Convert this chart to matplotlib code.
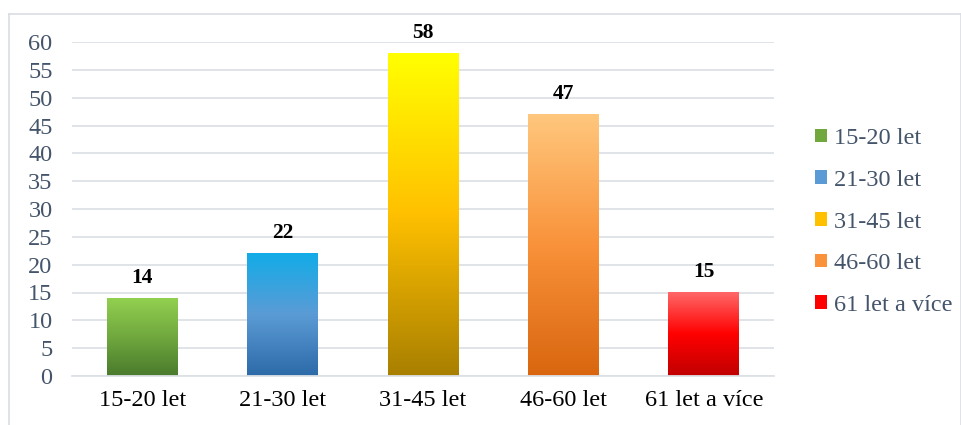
import matplotlib
matplotlib.use("Agg")
import matplotlib.pyplot as plt
import numpy as np
from matplotlib.colors import LinearSegmentedColormap
from matplotlib.patches import Patch
from matplotlib.lines import Line2D

categories = ["15-20 let", "21-30 let", "31-45 let", "46-60 let", "61 let a více"]
values = [14, 22, 58, 47, 15]
# top, middle, bottom colours of each bar's gradient
gradients = [
    ["#92d050", "#70a83e", "#4a7a2c"],
    ["#12ace8", "#5b9bd5", "#2c6aa8"],
    ["#ffff00", "#ffc000", "#a87f00"],
    ["#ffc77d", "#f9923a", "#d9660f"],
    ["#ff6868", "#ff0000", "#c00000"],
]

plt.rcParams['font.family'] = ['Liberation Serif', 'DejaVu Serif']

fig = plt.figure(figsize=(9.62, 4.25), dpi=100)
ax = fig.add_axes([72/962, 1-376/425, (774-72)/962, (376-42)/425])

x = np.arange(len(categories))
width = 0.505
bars = ax.bar(x, values, width=width, color="none", zorder=2)
for b, cols in zip(bars, gradients):
    cmap = LinearSegmentedColormap.from_list("g", cols[::-1])
    grad = np.linspace(0, 1, 256).reshape(-1, 1)
    x0, y0 = b.get_x(), b.get_y()
    ax.imshow(grad, cmap=cmap, origin="lower", aspect="auto",
              extent=[x0, x0 + b.get_width(), y0, y0 + b.get_height()], zorder=2)

for xi, v in zip(x, values):
    ax.annotate(str(v), (xi, v), xytext=(0, 11), textcoords="offset points",
                ha="center", va="baseline", fontsize=15.5, fontweight="bold", color="black")

ax.set_xlim(-0.5, len(categories) - 0.5)
ax.set_ylim(0, 60)
ax.set_yticks(range(0, 61, 5))
ax.set_xticks(x)
ax.set_xticklabels(categories, fontsize=17.5, color="black")
ax.tick_params(axis="y", labelsize=17.5, labelcolor="#44546a", length=0, pad=14)
ax.tick_params(axis="x", length=0, pad=10)
ax.grid(axis="y", color="#dde1e6", linewidth=1.3, zorder=0)
ax.set_axisbelow(True)
for s in ["top", "right", "left"]:
    ax.spines[s].set_visible(False)
ax.spines["bottom"].set_color("#dde1e6")
ax.spines["bottom"].set_linewidth(1.3)

handles = [Patch(facecolor=c[1], edgecolor="none") for c in gradients]
leg = fig.legend(handles, categories, loc="center left", bbox_to_anchor=(815/962, 1-222/425),
                 frameon=False, fontsize=17.5, borderpad=0, borderaxespad=0,
                 handlelength=0.5, handleheight=0.5, handletextpad=0.3, labelspacing=0.85)
for t in leg.get_texts():
    t.set_color("#44546a")

# outer chart border
bc = "#d9dde3"
fig.add_artist(Line2D([9/962, 9/962], [0, 1-14/425], color=bc, lw=1.2))
fig.add_artist(Line2D([9/962, 961/962], [1-14/425, 1-14/425], color=bc, lw=1.2))
fig.add_artist(Line2D([961/962, 961/962], [0, 1-14/425], color=bc, lw=1.2))

fig.savefig("out.png", dpi=100)
